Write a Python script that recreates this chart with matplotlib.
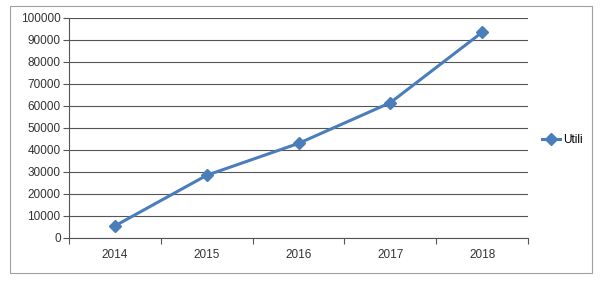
import matplotlib.pyplot as plt
from matplotlib.patches import Rectangle

years = ["2014", "2015", "2016", "2017", "2018"]
utili = [5500, 28500, 43000, 61500, 93500]

plt.rcParams['font.family'] = ['Liberation Sans', 'DejaVu Sans']

fig = plt.figure(figsize=(6.05, 2.88), dpi=100)
# outer chart border
fig.patches.append(Rectangle((10/605, 1-273/288), 582/605, 267/288, transform=fig.transFigure,
                             fill=False, edgecolor="#a0a0a0", linewidth=0.8))

ax = fig.add_axes([69/605, 1-238/288, 459/605, 220/288])
x = list(range(len(years)))
ax.plot(x, utili, color="#4a7ebb", linewidth=2.2, marker="D", markersize=6, label="Utili")

ax.set_xlim(-0.5, len(years) - 0.5)
ax.set_ylim(0, 100000)
ax.set_yticks(range(0, 100001, 10000))
ax.set_xticks(x)
ax.set_xticklabels(years)
ax.set_xticks([i - 0.5 for i in range(len(years) + 1)], minor=True)
ax.tick_params(axis="x", which="major", length=0, pad=8, labelsize=8.5, colors="#333333")
ax.tick_params(axis="x", which="minor", length=4, width=0.8, color="#555555")
ax.tick_params(axis="y", length=4, width=0.8, color="#555555", labelsize=8.5, pad=2, labelcolor="#333333")
ax.grid(axis="y", color="#555555", linewidth=0.8)
ax.set_axisbelow(True)
for s in ["top", "right"]:
    ax.spines[s].set_visible(False)
ax.spines["left"].set_color("#555555")
ax.spines["bottom"].set_color("#555555")
ax.spines["left"].set_linewidth(0.8)
ax.spines["bottom"].set_linewidth(0.8)

ax.legend(loc="center left", bbox_to_anchor=(1.0, 0.445), frameon=False, fontsize=8.5,
          handlelength=1.5, handletextpad=0.3, borderaxespad=0.8)

fig.savefig("out.png", dpi=100)
